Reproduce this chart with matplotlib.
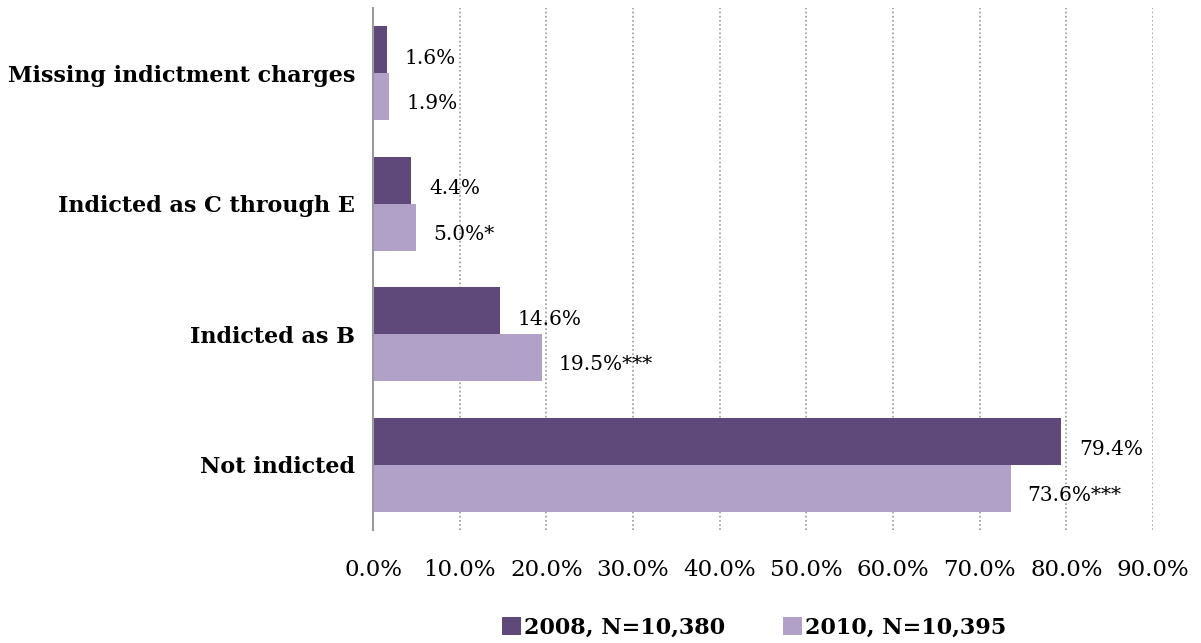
import matplotlib.pyplot as plt
import numpy as np

# indictment status shares by year
categories = ["Not indicted", "Indicted as B", "Indicted as C through E", "Missing indictment charges"]
vals_2008 = [79.4, 14.6, 4.4, 1.6]
vals_2010 = [73.6, 19.5, 5.0, 1.9]
labels_2008 = ["79.4%", "14.6%", "4.4%", "1.6%"]
labels_2010 = ["73.6%***", "19.5%***", "5.0%*", "1.9%"]
series_names = ["2008, N=10,380", "2010, N=10,395"]
xticks = np.arange(0, 91, 10)

dark = "#5f497a"
light = "#b1a0c7"

plt.rcParams['font.family'] = ['DejaVu Serif']

fig = plt.figure(figsize=(12.01, 6.43), dpi=100)
ax = fig.add_axes([373 / 1201, 1 - 530 / 643, (1153 - 373) / 1201, 522 / 643])

y = np.arange(len(categories))
h = 0.36
ax.barh(y + h / 2, vals_2008, height=h, color=dark, label=series_names[0])
ax.barh(y - h / 2, vals_2010, height=h, color=light, label=series_names[1])

for yi, v, t in zip(y, vals_2008, labels_2008):
    ax.annotate(t, (v, yi + h / 2), xytext=(13, -6), textcoords="offset points",
                va="center", ha="left", fontsize=14.5)
for yi, v, t in zip(y, vals_2010, labels_2010):
    ax.annotate(t, (v, yi - h / 2), xytext=(12, -5), textcoords="offset points",
                va="center", ha="left", fontsize=14.5)

ax.set_xlim(0, 90)
ax.set_ylim(-0.5, 3.5)
ax.set_xticks(xticks)
ax.set_xticklabels([f"{t:.1f}%" for t in xticks], fontsize=16.5)
ax.set_yticks(y)
ax.set_yticklabels(categories, fontsize=16, fontweight="bold")
ax.tick_params(axis="both", length=0)
ax.tick_params(axis="x", pad=21)
ax.tick_params(axis="y", pad=13)

ax.xaxis.grid(True, linestyle=(0, (1, 1.5)), color="#999999", linewidth=1.2)
ax.set_axisbelow(True)
for s in ["top", "right", "bottom"]:
    ax.spines[s].set_visible(False)
ax.spines["left"].set_color("#999999")
ax.spines["left"].set_linewidth(1.5)

fig.legend(loc="center", bbox_to_anchor=(754 / 1201, 1 - 628 / 643), ncol=2, frameon=False,
           prop={"size": 16, "weight": "bold"}, handlelength=0.85, handleheight=0.85,
           handletextpad=0.15, columnspacing=2.6)

fig.savefig("out.png", dpi=100)
